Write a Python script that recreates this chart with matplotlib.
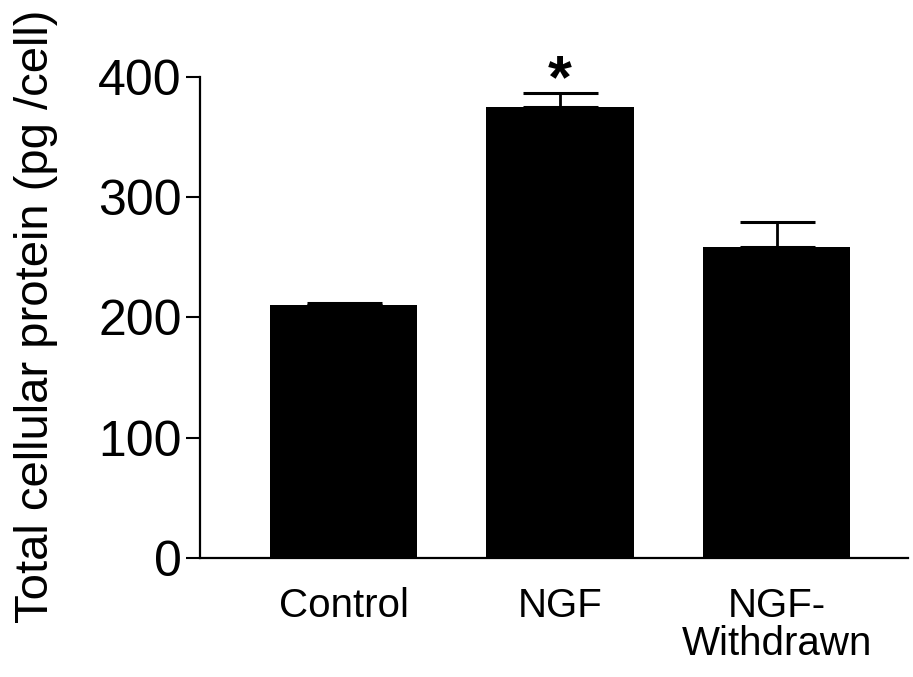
import matplotlib
matplotlib.use("Agg")
import matplotlib.pyplot as plt
import numpy as np

categories = ["Control", "NGF", "NGF-\nWithdrawn"]
values = [210, 375, 259]
errors = [2, 12, 20]
significance = ["", "*", ""]

plt.rcParams['font.family'] = ['Liberation Sans', 'DejaVu Sans']

fig = plt.figure(figsize=(9.13, 6.77), dpi=100)
ax = fig.add_axes([0.219, 0.1758, 0.7755, 0.7105])

x = np.arange(len(categories))
ax.bar(x, values, width=0.68, color='black', edgecolor='none', zorder=2)
ax.errorbar(x, values, yerr=[np.zeros(len(values)), errors], fmt='none',
            ecolor='black', elinewidth=2, capsize=27, capthick=2.2, zorder=1)

for xi, v, e, s in zip(x, values, errors, significance):
    if s:
        ax.text(xi, v + e - 4, s, ha='center', va='baseline', fontsize=44,
                fontweight='bold', clip_on=False)

ax.set_xlim(-0.663, 2.607)
ax.set_ylim(0, 400)
ax.set_yticks([0, 100, 200, 300, 400])
ax.set_xticks(x)
ax.set_xticklabels(categories, fontsize=29, linespacing=1.0, va='top')
ax.tick_params(axis='x', length=0, pad=21)
ax.tick_params(axis='y', length=10, width=1.5, labelsize=36, pad=3)

for s in ['top', 'right']:
    ax.spines[s].set_visible(False)
for s in ['left', 'bottom']:
    ax.spines[s].set_linewidth(1.6)

fig.text(14 / 913, 1 - 316 / 677, "Total cellular protein (pg /cell)",
         rotation=90, ha='left', va='center', fontsize=34)

fig.savefig("out.png", dpi=100)
